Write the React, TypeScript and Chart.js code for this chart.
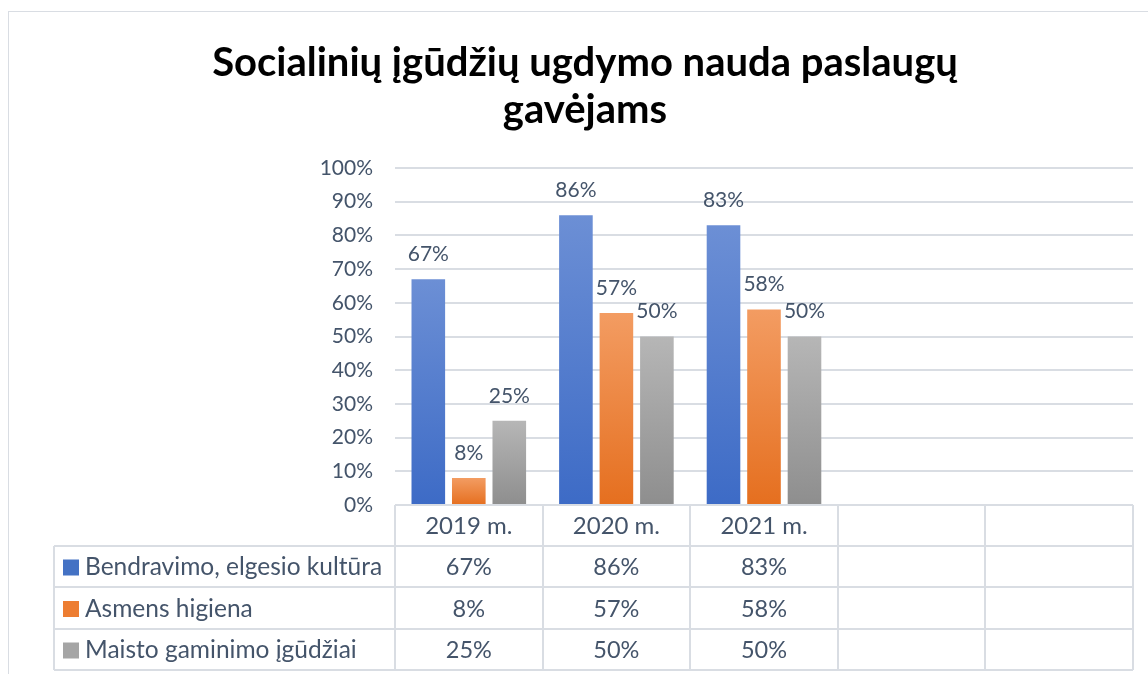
import React, { useEffect, useRef } from "react";
import { Chart, registerables } from "chart.js";

Chart.register(...registerables);

const titleLines = ["Socialinių įgūdžių ugdymo nauda paslaugų", "gavėjams"];
const categories = ["2019 m.", "2020 m.", "2021 m.", "", ""];
const seriesNames = ["Bendravimo, elgesio kultūra", "Asmens higiena", "Maisto gaminimo įgūdžiai"];
const bendravimo = [67, 86, 83, null, null];
const higiena = [8, 57, 58, null, null];
const maistas = [25, 50, 50, null, null];
const yTicks = [0, 10, 20, 30, 40, 50, 60, 70, 80, 90, 100];

const FONT = "Lato, 'Open Sans', sans-serif";
const TEXT = "#44546A";
const LINE = "#D9DDE3";
const gradients = [
  ["#6C8FD5", "#3D6BC6"],
  ["#F39C62", "#E56F1F"],
  ["#B6B6B6", "#8E8E8E"],
];
const swatch = ["#4472C4", "#ED7D31", "#A5A5A5"];

function gradFill(idx: number) {
  return (ctx: any) => {
    const chart = ctx.chart;
    const y = chart.scales?.y;
    if (!y || ctx.type !== "data" || ctx.raw == null) return gradients[idx][1];
    const top = y.getPixelForValue(ctx.raw);
    const base = y.getPixelForValue(0);
    if (!Number.isFinite(top) || !Number.isFinite(base) || top === base) return gradients[idx][1];
    const g = chart.ctx.createLinearGradient(0, top, 0, base);
    g.addColorStop(0, gradients[idx][0]);
    g.addColorStop(1, gradients[idx][1]);
    return g;
  };
}

const framePlugin = {
  id: "frame",
  beforeDraw(chart: any) {
    const c = chart.ctx;
    c.save();
    c.fillStyle = "#fff";
    c.fillRect(0, 0, chart.width, chart.height);
    c.strokeStyle = LINE;
    c.lineWidth = 1;
    c.strokeRect(8.5, 11.5, chart.width + 20, chart.height + 20);
    c.restore();
  },
};

const labelPlugin = {
  id: "barLabels",
  afterDatasetsDraw(chart: any) {
    const c = chart.ctx;
    c.save();
    c.font = `21px ${FONT}`;
    c.fillStyle = TEXT;
    c.textAlign = "center";
    c.textBaseline = "middle";
    chart.data.datasets.forEach((ds: any, i: number) => {
      const meta = chart.getDatasetMeta(i);
      meta.data.forEach((bar: any, j: number) => {
        const v = ds.data[j];
        if (v == null) return;
        c.fillText(`${v}%`, bar.x, bar.y - 25);
      });
    });
    c.restore();
  },
};

const tablePlugin = {
  id: "dataTable",
  afterDraw(chart: any) {
    const c = chart.ctx;
    const xs = chart.scales.x;
    const area = chart.chartArea;
    const n = categories.length;
    const edges: number[] = [area.left];
    for (let i = 1; i < n; i++) {
      edges.push(Math.round((xs.getPixelForValue(i - 1) + xs.getPixelForValue(i)) / 2));
    }
    edges.push(area.right);
    const legendLeft = 54;
    const top = area.bottom;
    const rowH = 41.2;
    const rows = [top, top + rowH, top + 2 * rowH, top + 3 * rowH, top + 4 * rowH].map((v) => Math.round(v));

    c.save();
    c.strokeStyle = LINE;
    c.lineWidth = 2;
    c.beginPath();
    c.moveTo(edges[0], rows[0]);
    c.lineTo(edges[n], rows[0]);
    for (let r = 1; r < rows.length; r++) {
      c.moveTo(legendLeft, rows[r]);
      c.lineTo(edges[n], rows[r]);
    }
    c.moveTo(legendLeft, rows[1]);
    c.lineTo(legendLeft, rows[4]);
    edges.forEach((x) => {
      c.moveTo(x, rows[0]);
      c.lineTo(x, rows[4]);
    });
    c.stroke();

    c.fillStyle = TEXT;
    c.textBaseline = "middle";
    c.textAlign = "center";
    c.font = `24px ${FONT}`;
    categories.forEach((cat, i) => {
      c.fillText(cat, xs.getPixelForValue(i), (rows[0] + rows[1]) / 2 + 1);
    });
    const series = [bendravimo, higiena, maistas];
    series.forEach((vals, s) => {
      const cy = (rows[s + 1] + rows[s + 2]) / 2 + 1;
      c.textAlign = "center";
      c.font = `23.5px ${FONT}`;
      vals.forEach((v, i) => {
        if (v == null) return;
        c.fillText(`${v}%`, xs.getPixelForValue(i), cy);
      });
      c.fillStyle = swatch[s];
      c.fillRect(63, cy - 8, 16, 16);
      c.fillStyle = TEXT;
      c.textAlign = "left";
      c.font = `24.5px ${FONT}`;
      c.fillText(seriesNames[s], 85, cy);
    });
    c.restore();
  },
};

export default function App() {
  const ref = useRef<HTMLCanvasElement | null>(null);
  useEffect(() => {
    if (!ref.current) return;
    const chart = new Chart(ref.current, {
      type: "bar",
      data: {
        labels: categories,
        datasets: [
          { label: seriesNames[0], data: bendravimo, backgroundColor: gradFill(0) },
          { label: seriesNames[1], data: higiena, backgroundColor: gradFill(1) },
          { label: seriesNames[2], data: maistas, backgroundColor: gradFill(2) },
        ],
      },
      options: {
        responsive: false,
        animation: false,
        layout: { padding: { left: 37, right: 15, top: 0, bottom: 169 } },
        datasets: { bar: { categoryPercentage: 0.823, barPercentage: 0.83 } },
        plugins: {
          legend: { display: false },
          tooltip: { enabled: false },
          title: {
            display: true,
            text: titleLines,
            color: "#000",
            font: { family: FONT, size: 40, weight: "bold", lineHeight: 1.175 },
            padding: { top: 40, bottom: 34 },
          },
        },
        scales: {
          x: { display: false, offset: true },
          y: {
            min: 0,
            max: 100,
            afterBuildTicks(scale: any) {
              scale.ticks = yTicks.map((v) => ({ value: v }));
            },
            afterFit(scale: any) {
              scale.width = 395 - 37;
            },
            border: { display: false },
            grid: { color: LINE, lineWidth: 2, drawTicks: false },
            ticks: {
              color: TEXT,
              font: { family: FONT, size: 21 },
              padding: 22,
              callback: (v: any) => `${v}%`,
            },
          },
        },
      },
      plugins: [framePlugin, labelPlugin, tablePlugin],
    });
    return () => chart.destroy();
  }, []);
  return (
    <div style={{ position: "absolute", left: 0, top: 0, width: 1148, height: 674, overflow: "hidden" }}>
      <canvas ref={ref} width={1148} height={674} />
    </div>
  );
}
